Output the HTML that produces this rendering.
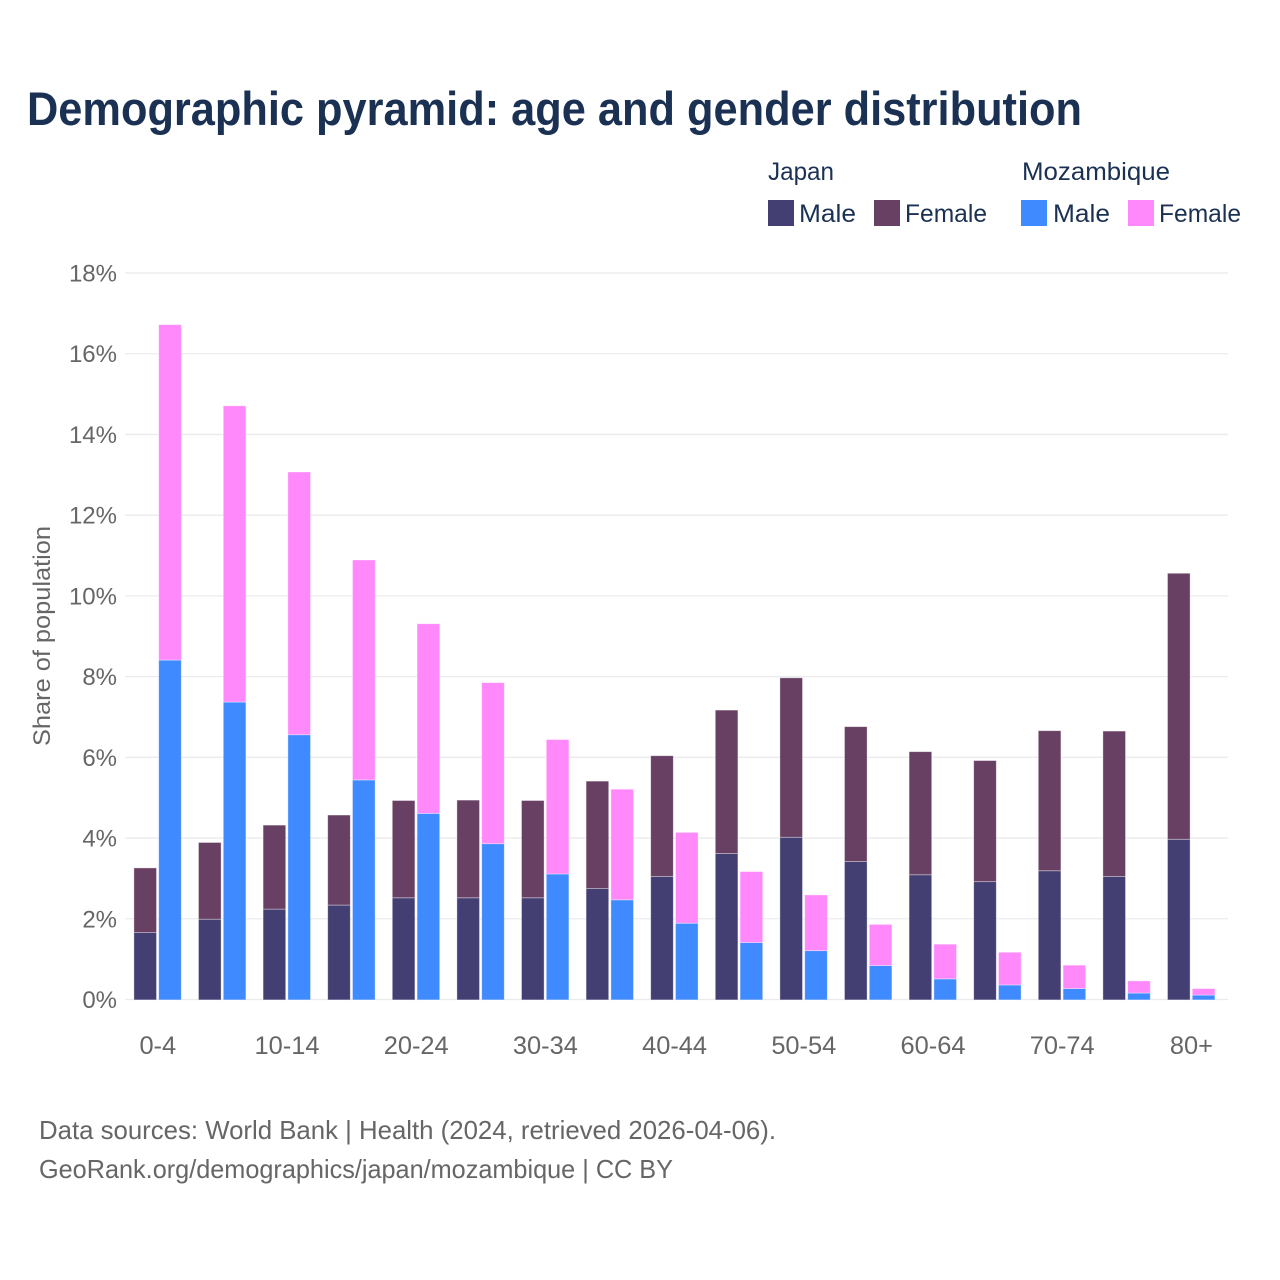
<!DOCTYPE html>
<html lang="en">
<head>
<meta charset="utf-8">
<title>Demographic pyramid</title>
<style>
html,body{margin:0;padding:0;background:#fff;width:1280px;height:1280px;overflow:hidden}
svg{display:block}
text{font-family:"Liberation Sans",sans-serif}
</style>
</head>
<body>
<svg id="chart" xmlns="http://www.w3.org/2000/svg" width="1280" height="1280" viewBox="0 0 1280 1280">
  <rect width="1280" height="1280" fill="#fff"/>
  <text x="27" y="125" font-size="47" font-weight="700" fill="#1a3153" textLength="1055" lengthAdjust="spacingAndGlyphs">Demographic pyramid: age and gender distribution</text>

  <g>
    <text x="768" y="180" font-size="25" fill="#1a3153" textLength="66" lengthAdjust="spacingAndGlyphs">Japan</text>
    <text x="1022" y="180" font-size="25" fill="#1a3153" textLength="148" lengthAdjust="spacingAndGlyphs">Mozambique</text>
    <rect x="768" y="200" width="26" height="26" fill="#443f72"/>
    <text x="799" y="222" font-size="25" fill="#1a3153" textLength="57" lengthAdjust="spacingAndGlyphs">Male</text>
    <rect x="874" y="200" width="26" height="26" fill="#684063"/>
    <text x="905" y="222" font-size="25" fill="#1a3153" textLength="82" lengthAdjust="spacingAndGlyphs">Female</text>
    <rect x="1021" y="200" width="26" height="26" fill="#408aff"/>
    <text x="1053" y="222" font-size="25" fill="#1a3153" textLength="57" lengthAdjust="spacingAndGlyphs">Male</text>
    <rect x="1128" y="200" width="26" height="26" fill="#ff88fb"/>
    <text x="1159" y="222" font-size="25" fill="#1a3153" textLength="82" lengthAdjust="spacingAndGlyphs">Female</text>
  </g>

  <g id="grid"></g>
  <g id="yticks"></g>
  <g id="bars"></g>
  <g id="xticks"></g>

  <text transform="translate(50,636) rotate(-90)" text-anchor="middle" font-size="24" fill="#666" textLength="220" lengthAdjust="spacingAndGlyphs">Share of population</text>

  <text x="39" y="1139" font-size="26" fill="#666" textLength="737" lengthAdjust="spacingAndGlyphs">Data sources: World Bank | Health (2024, retrieved 2026-04-06).</text>
  <text x="39" y="1178" font-size="26" fill="#666" textLength="634" lengthAdjust="spacingAndGlyphs">GeoRank.org/demographics/japan/mozambique | CC BY</text>
</svg>
<script>
const ageGroups = ["0-4","5-9","10-14","15-19","20-24","25-29","30-34","35-39","40-44","45-49","50-54","55-59","60-64","65-69","70-74","75-79","80+"];
const japanMale = [1.67,2.00,2.25,2.35,2.53,2.53,2.53,2.76,3.06,3.63,4.03,3.43,3.10,2.93,3.20,3.06,3.98];
const japanFemale = [1.60,1.90,2.08,2.23,2.41,2.42,2.41,2.66,2.99,3.55,3.95,3.34,3.05,3.00,3.47,3.60,6.59];
const mozambiqueMale = [8.42,7.38,6.57,5.45,4.62,3.87,3.12,2.48,1.90,1.42,1.22,0.85,0.52,0.37,0.28,0.17,0.12];
const mozambiqueFemale = [8.31,7.34,6.51,5.45,4.70,3.99,3.33,2.74,2.25,1.76,1.38,1.02,0.86,0.81,0.58,0.30,0.16];
const yTickValues = [0,2,4,6,8,10,12,14,16,18];

const NS = "http://www.w3.org/2000/svg";
const yScale = v => 999.5 - v * (726.5 / 18);
const bandLeft = 125.2;
const bandStep = 64.6;
const xCenter = i => bandLeft + bandStep * (i + 0.5);
const barWidth = 22.6;
const barOffsetJapan = -23.6;
const barOffsetMozambique = 1.2;
const barNudge = 0.4;

function make(tag, attrs) {
  const el = document.createElementNS(NS, tag);
  for (const k in attrs) el.setAttribute(k, attrs[k]);
  return el;
}

const grid = document.getElementById("grid");
const yticks = document.getElementById("yticks");
yTickValues.forEach(t => {
  const line = make("line", {x1: 125, x2: 1228, y1: yScale(t), y2: yScale(t), stroke: "#ebebeb", "stroke-width": 1.3});
  
  
  grid.appendChild(line);
  const label = make("text", {x: 117, y: yScale(t) + 8.5, "text-anchor": "end", "font-size": 24, fill: "#666"});
  
  
  label.textContent = t + "%";
  yticks.appendChild(label);
});

const bars = document.getElementById("bars");
function drawBar(x, base, value, color, name) {
  const top = yScale(base + value) + barNudge;
  const r = make("rect", {x: x, y: top, width: barWidth, height: yScale(base) + barNudge - top, fill: color, stroke: "#fff", "stroke-opacity": 0.45, "stroke-width": 0.8});
  
  
  bars.appendChild(r);
}
ageGroups.forEach((g, i) => {
  const xj = xCenter(i) + barOffsetJapan;
  const xm = xCenter(i) + barOffsetMozambique;
  drawBar(xj, 0, japanMale[i], "#443f72", "bar-japan-male");
  drawBar(xj, japanMale[i], japanFemale[i], "#684063", "bar-japan-female");
  drawBar(xm, 0, mozambiqueMale[i], "#408aff", "bar-mozambique-male");
  drawBar(xm, mozambiqueMale[i], mozambiqueFemale[i], "#ff88fb", "bar-mozambique-female");
});

const xticks = document.getElementById("xticks");
ageGroups.forEach((g, i) => {
  if (i % 2 !== 0) return;
  const label = make("text", {x: xCenter(i) + 0.3, y: 1054, "text-anchor": "middle", "font-size": 25.4, fill: "#666"});
  
  
  label.textContent = g;
  xticks.appendChild(label);
});
</script>
</body>
</html>
